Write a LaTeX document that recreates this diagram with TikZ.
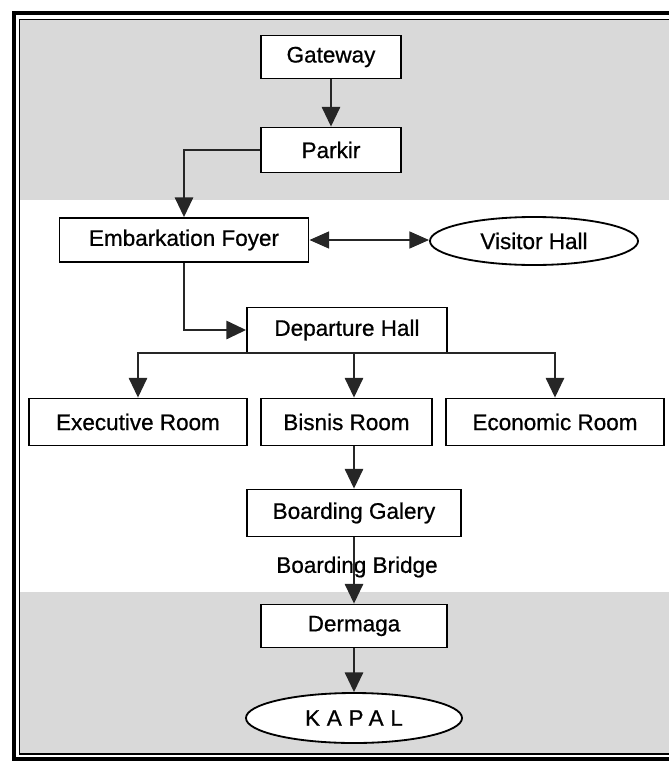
\documentclass[tikz,border=0pt]{standalone}
\usepackage{fontspec}
\setmainfont[FakeBold=0.7]{Liberation Sans}
\newfontfamily\spacedfont[LetterSpace=30,FakeBold=0.7]{Liberation Sans}
\usetikzlibrary{arrows.meta,shapes.geometric}
\begin{document}
\begin{tikzpicture}[
    x=0.025cm, y=-0.025cm,
    room/.style={draw=black, fill=white, line width=1.3pt, inner sep=0pt, font=\fontsize{16pt}{19pt}\selectfont},
    hall/.style={ellipse, draw=black, fill=white, line width=1.3pt, inner sep=0pt, font=\fontsize{16pt}{19pt}\selectfont},
    arrow/.style={-{Triangle[width=13pt,length=14pt]}, line width=1.4pt, color=black!85},
    twoway/.style={{Triangle[width=12pt,length=14pt]}-{Triangle[width=12pt,length=14pt]}, line width=1.4pt, color=black!85},
    bridgelbl/.style={font=\fontsize{16pt}{19pt}\selectfont, inner sep=1pt},
    scanband/.style={fill=gray!30},
]
\useasboundingbox (0,0) rectangle (669,764);
\clip (0,0) rectangle (669,764);
\fill[scanband] (19,20) rectangle (669,200);
\fill[scanband] (19,592) rectangle (669,754);
\draw[line width=2.8pt] (14,13) rectangle (700,759);
\draw[line width=0.9pt] (19.5,19.5) rectangle (695,754);
\node[room, minimum width=3.5cm, minimum height=1.075cm] (gate) at (331,57) {Gateway};
\node[room, minimum width=3.5cm, minimum height=1.125cm] (park) at (331,150) {Parkir};
\node[room, minimum width=6.225cm, minimum height=1.1cm] (foyer) at (184,240) {Embarkation Foyer};
\node[hall, minimum width=5.2cm, minimum height=1.2cm] (visitor) at (534,241) {Visitor Hall};
\node[room, minimum width=5cm, minimum height=1.125cm] (depart) at (347,330) {Departure Hall};
\node[room, minimum width=5.45cm, minimum height=1.175cm] (exec) at (138,422) {Executive Room};
\node[room, minimum width=4.275cm, minimum height=1.175cm] (bisnis) at (346.5,422) {Bisnis Room};
\node[room, minimum width=5.45cm, minimum height=1.175cm] (econ) at (555,422) {Economic Room};
\node[room, minimum width=5.35cm, minimum height=1.175cm] (galery) at (354,513) {Boarding Galery};
\node[bridgelbl] (bridge) at (357,567) {Boarding Bridge};
\node[room, minimum width=4.65cm, minimum height=1.075cm] (dermaga) at (354,626) {Dermaga};
\node[hall, minimum width=5.4cm, minimum height=1.25cm] (kapal) at (354,718) {\spacedfont KAPAL};
\draw[arrow] (gate) -- (park);
\draw[arrow] (park.west) -| (foyer.north);
\draw[twoway] (foyer.east) -- (foyer.east -| visitor.west);
\draw[arrow] (foyer.south) |- (depart.west);
\draw[arrow] (depart.south) -| (exec.north);
\draw[arrow] (depart.south -| galery.north) -- (bisnis.north -| galery.north);
\draw[arrow] (depart.south) -| (econ.north);
\draw[arrow] (bisnis.south -| galery.north) -- (galery.north);
\draw[arrow] (galery) -- (dermaga);
\draw[arrow] (dermaga) -- (kapal);
\end{tikzpicture}
\end{document}
